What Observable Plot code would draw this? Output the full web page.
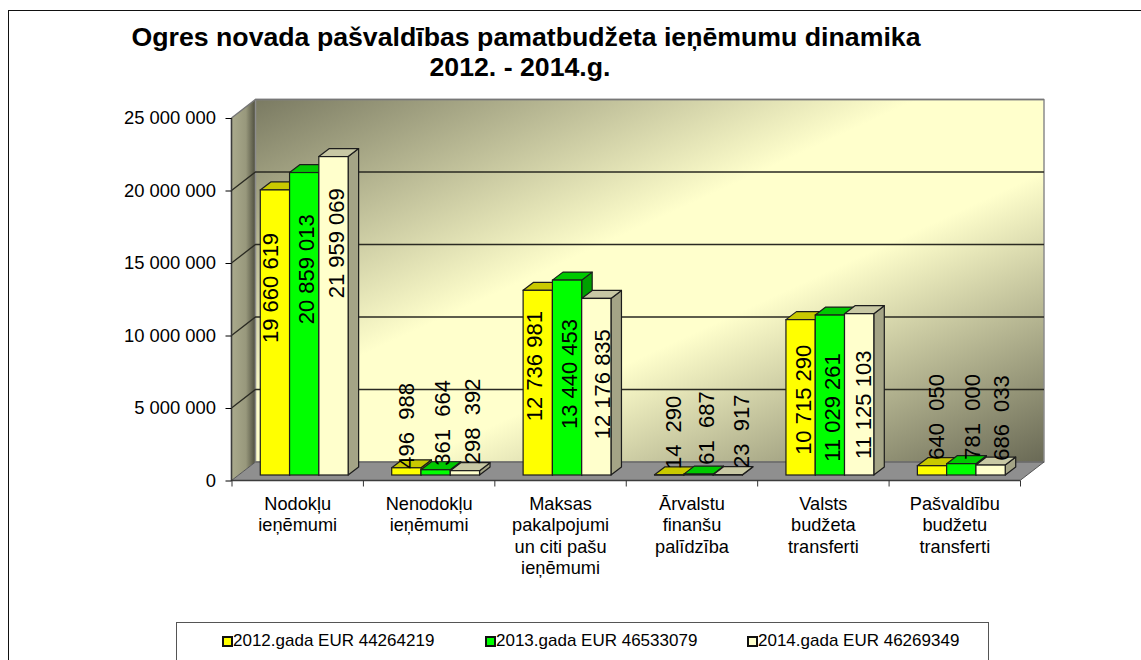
<!DOCTYPE html>
<html lang="lv">
<head>
<meta charset="utf-8">
<script src="https://cdn.jsdelivr.net/npm/d3@7"></script>
<script src="https://cdn.jsdelivr.net/npm/@observablehq/plot@0.6"></script>
<style>
html,body{margin:0;padding:0;background:#fff;overflow:hidden}
#page{position:relative;width:1141px;height:660px;overflow:hidden;font-family:"Liberation Sans",Arial,sans-serif;color:#000}
#frame{position:absolute;left:8px;top:10px;width:1200px;height:800px;border:1.5px solid #111;box-sizing:border-box}
#title{position:absolute;left:0;top:22px;width:1052px;text-align:center;font-weight:bold;font-size:26.7px;line-height:30px;margin:0}
#title span{display:block}
#chart{position:absolute;left:0;top:0}
#legend{position:absolute;left:176px;top:622px;width:813px;height:60px;border:1.5px solid #555;box-sizing:border-box;font-size:17px}
.item{position:absolute;top:8px;white-space:nowrap;line-height:20px}
.sw{position:absolute;width:7px;height:7px;border:2px solid #111}
</style>
</head>
<body>
<div id="page">
  <div id="frame"></div>
  <div id="chart"></div>
  <h1 id="title"><span>Ogres novada pašvaldības pamatbudžeta ieņēmumu dinamika</span><span style="padding-right:12px">2012. - 2014.g.</span></h1>
  <div id="legend"></div>
</div>
<script>
const categories = ["Nodokļu\nieņēmumi", "Nenodokļu\nieņēmumi", "Maksas\npakalpojumi\nun citi pašu\nieņēmumi", "Ārvalstu\nfinanšu\npalīdzība", "Valsts\nbudžeta\ntransferti", "Pašvaldību\nbudžetu\ntransferti"];
const years = ["2012", "2013", "2014"];
const values2012 = [19660619, 496988, 12736981, 14290, 10715290, 640050];
const values2013 = [20859013, 361664, 13440453, 61687, 11029261, 781000];
const values2014 = [21959069, 298392, 12176835, 23917, 11125103, 686033];
const seriesValues = [values2012, values2013, values2014];
const legendLabels = ["2012.gada EUR 44264219", "2013.gada EUR 46533079", "2014.gada EUR 46269349"];
const yTicks = [0, 5000000, 10000000, 15000000, 20000000, 25000000];
const faceColors = ["#ffff00", "#00ff00", "#ffffcc"];
const topColors = ["#c9c900", "#00c900", "#c8c8a4"];
const sideColors = ["#a0a000", "#00a000", "#a4a486"];
// the reference's data labels were placed by hand: nudge from the bar's centre, in pixels
const labelNudgeX = [[-4.5, 2, 3], [0.5, 6.7, 8], [-3.5, 2.5, 5.7], [4, 8, 14], [2.5, 3, 4.5], [4.7, 10.7, 11]];
const labelNudgeY = [[-45, -55, -73], [-46, -50, -52], [-17, -4, -3], [-43, -47, -44], [2, 12, 10], [-54, -53, -52.5]];

const spaced = (n) => d3.format(",")(n).replace(/,/g, " ");
const smallLimit = 1000000;
// wall depth and bar placement, in pixels
const wall = {dx: 24, dy: -18.5};
const face = {dx: 7, dy: -5.5};
const bar = {dx: 10.5, dy: -8};
const stepPx = 131.5, widthPx = 29.3, sidePad = (stepPx - 3 * widthPx) / 2;
const pxPerUnitY = 362.5 / 25000000;

const rows = categories.flatMap((c, i) => years.map((year, s) => {
  const value = seriesValues[s][i];
  const small = value < smallLimit;
  const x1 = i + (sidePad + s * widthPx) / stepPx;
  return {cat: i, year, s, value, x1, x2: x1 + widthPx / stepPx,
    xLabel: x1 + (widthPx / 2 + labelNudgeX[i][s]) / stepPx,
    yLabel: value / 2 - labelNudgeY[i][s] / pxPerUnitY,
    label: small ? spaced(value).replace(" ", "\u00a0\u00a0") : spaced(value)};
}));

const SVGNS = "http://www.w3.org/2000/svg";
const poly = (pts, fill, stroke, sw) => {
  const p = document.createElementNS(SVGNS, "polygon");
  p.setAttribute("points", pts.map((q) => q.join(",")).join(" "));
  p.setAttribute("fill", fill);
  if (stroke) { p.setAttribute("stroke", stroke); p.setAttribute("stroke-width", sw || 1); p.setAttribute("stroke-linejoin", "round"); }
  return p;
};
const group = () => document.createElementNS(SVGNS, "g");
const path = (d, stroke, sw) => {
  const p = document.createElementNS(SVGNS, "path");
  p.setAttribute("d", d);
  p.setAttribute("fill", "none");
  p.setAttribute("stroke", stroke);
  p.setAttribute("stroke-width", sw);
  return p;
};

const defs = () => {
  const d = document.createElementNS(SVGNS, "defs");
  d.innerHTML = `
  <linearGradient id="backWall" x1="0" y1="0" x2="1" y2="1">
    <stop offset="0" stop-color="#7a7a62"/><stop offset="0.42" stop-color="#ffffcc"/>
    <stop offset="0.6" stop-color="#ffffcc"/><stop offset="1" stop-color="#696955"/>
  </linearGradient>
  <linearGradient id="sideWall" x1="0" y1="0" x2="1" y2="0">
    <stop offset="0" stop-color="#aaaa8c"/><stop offset="0.6" stop-color="#98987c"/><stop offset="1" stop-color="#4d4d3d"/>
  </linearGradient>`;
  return d;
};

const walls = (index, {x, y}) => {
  const g = group();
  const left = x(0), right = x(6), y0 = y(0), yTop = y(25000000);
  const d = wall;
  g.appendChild(poly([[left, yTop], [left + d.dx, yTop + d.dy], [left + d.dx, y0 + d.dy], [left, y0]], "url(#sideWall)"));
  g.appendChild(poly([[left + d.dx, yTop + d.dy], [right + d.dx, yTop + d.dy], [right + d.dx, y0 + d.dy], [left + d.dx, y0 + d.dy]], "url(#backWall)", "#8c8c8c", 1.5));
  g.appendChild(poly([[left, y0], [left + d.dx, y0 + d.dy], [right + d.dx, y0 + d.dy], [right, y0]], "#8f8f8f", "#555", 1));
  for (const t of yTicks) {
    if (t > 0 && t < 25000000) {
      g.appendChild(path(`M${left},${y(t)}L${left + d.dx},${y(t) + d.dy}L${right + d.dx},${y(t) + d.dy}`, "#2a2a22", 1.3));
    }
  }
  g.appendChild(path(`M${left},${yTop}L${left + d.dx},${yTop + d.dy}L${right + d.dx},${yTop + d.dy}`, "#777", 1.5));
  g.appendChild(path(`M${left},${yTop}V${y0}H${right}`, "#3c3c3c", 1.6));
  return g;
};

const depthFaces = (s) => (index, {x, y}) => {
  const g = group();
  for (const r of rows.filter((r) => r.s === s)) {
    const xa = x(r.x1) + face.dx, xb = x(r.x2) + face.dx;
    const yt = y(r.value) + face.dy, yb = y(0) + face.dy;
    g.appendChild(poly([[xb, yt], [xb + bar.dx, yt + bar.dy], [xb + bar.dx, yb + bar.dy], [xb, yb]], sideColors[s], "#1c1c1c", 1.2));
    g.appendChild(poly([[xa, yt], [xa + bar.dx, yt + bar.dy], [xb + bar.dx, yt + bar.dy], [xb, yt]], topColors[s], "#1c1c1c", 1.2));
  }
  return g;
};

const barMarks = years.flatMap((year, s) => [
  depthFaces(s),
  Plot.rect(rows.filter((r) => r.s === s), {
    x1: "x1", x2: "x2", y1: () => 0, y2: "value",
    dx: face.dx, dy: face.dy, fill: "year", stroke: "#1c1c1c", strokeWidth: 1.2
  })
]);

const plot = Plot.plot({
  width: 1141,
  height: 660,
  marginLeft: 231.5,
  marginRight: 121,
  marginTop: 118,
  marginBottom: 179.5,
  style: {background: "transparent", fontFamily: "'Liberation Sans', Arial, sans-serif", color: "#000"},
  x: {domain: [0, 6], axis: null},
  y: {domain: [0, 25000000], axis: null},
  color: {domain: years, range: faceColors},
  marks: [
    defs,
    walls,
    ...barMarks,
    Plot.text(rows, {
      x: "xLabel",
      y: "yLabel",
      text: "label",
      rotate: -90,
      dy: face.dy,
      dx: face.dx,
      fontSize: 22,
      fill: "#000"
    }),
    Plot.axisY({ticks: yTicks, tickFormat: spaced, tickSize: 6, tickPadding: 10, fontSize: 18.4, stroke: "#000", label: null}),
    Plot.axisX({ticks: d3.range(0, 7), tickFormat: () => "", tickSize: 6, label: null, stroke: "#333"}),
    Plot.axisX({
      ticks: d3.range(0.5, 6),
      tickFormat: (t) => categories[Math.floor(t)],
      tickSize: 0,
      tickPadding: 14,
      fontSize: 18.2,
      lineHeight: 1.17,
      lineAnchor: "top",
      label: null
    })
  ]
});
document.getElementById("chart").appendChild(plot);

const legend = document.getElementById("legend");
const legendX = [56, 319, 581];
legendLabels.forEach((label, i) => {
  const item = document.createElement("div");
  item.className = "item";
  item.style.left = legendX[i] + "px";
  item.textContent = label;
  const sw = document.createElement("div");
  sw.className = "sw";
  sw.style.left = (legendX[i] - 11) + "px";
  sw.style.top = "13px";
  sw.style.background = faceColors[i];
  legend.appendChild(sw);
  legend.appendChild(item);
});
</script>
</body>
</html>
